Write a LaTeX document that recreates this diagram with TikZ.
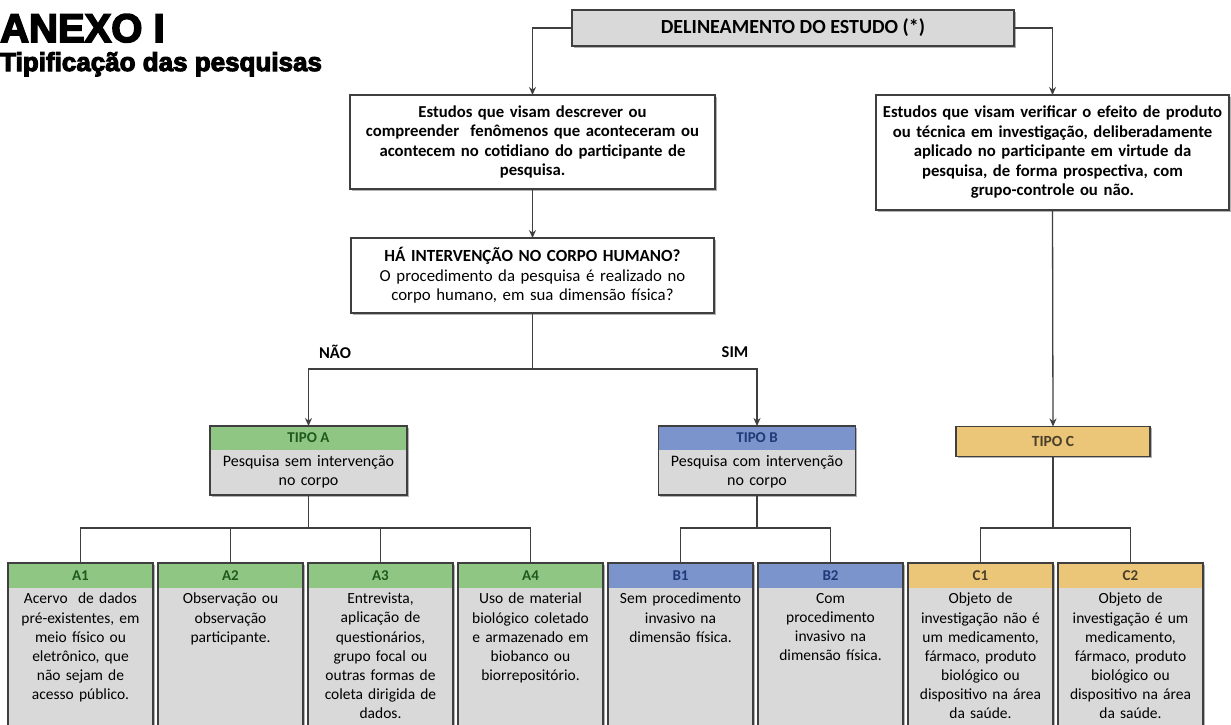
\documentclass[tikz,border=0pt]{standalone}
\usepackage{fontspec}
\setmainfont{Carlito}
\newfontfamily\titlefont{Liberation Sans}[BoldFeatures={FakeBold=4}]
\usetikzlibrary{arrows.meta,shadows}
\definecolor{boxgray}{HTML}{D9D9D9}
\definecolor{bordercol}{HTML}{3F3F3F}
\definecolor{agreen}{HTML}{8FC683}
\definecolor{agreentxt}{HTML}{1E5A1E}
\definecolor{bblue}{HTML}{7B94CB}
\definecolor{bbluetxt}{HTML}{1F3A78}
\definecolor{cgold}{HTML}{EBC679}
\definecolor{cgoldtxt}{HTML}{4A3F2A}
\tikzset{
  frame/.style={outer sep=0pt, inner sep=0pt, draw=bordercol, line width=1.3pt,
    drop shadow={shadow xshift=1.6pt, shadow yshift=-1.6pt, opacity=.3, fill=black}},
  border/.style={draw=bordercol, line width=1.3pt},
  hdr/.style={outer sep=0pt, inner sep=0pt, font=\bfseries\fontsize{15}{17}\selectfont},
  bodytxt/.style={inner sep=0pt, align=center, text width=142pt, font=\fontsize{15.5}{19.1}\selectfont},
  conn/.style={draw=bordercol, line width=1.3pt},
  arr/.style={conn, -{Stealth[length=8pt,width=7pt]}},
  lbl/.style={font=\bfseries\fontsize{16.5}{18}\selectfont},
  bigtxt/.style={align=center, font=\bfseries\fontsize{16.7}{19.5}\selectfont},
}
\newcommand\botbox[6]{%
  \node[frame, fill=boxgray, minimum width=145pt, minimum height=175pt, anchor=north] (#1) at (#2,563) {};
  \node[hdr, fill=#3, text=#4, minimum width=145pt, minimum height=25pt, anchor=north] (#1h) at (#1.north) {#5};
  \node[bodytxt, anchor=north] (#1t) at ([yshift=-5pt]#1h.south) {#6};
  \draw[border] (#1.north west) rectangle (#1.south east);
}
\begin{document}
\begin{tikzpicture}[x=1pt,y=-1pt]
\useasboundingbox (0,0) rectangle (1231,724);
\fill[white] (0,0) rectangle (1231,724);
% titles
\node[anchor=base west, inner sep=0pt, font=\titlefont\bfseries\fontsize{40}{44}\selectfont] (t1) at (0,42) {ANEXO I};
\node[anchor=base west, inner sep=0pt, font=\titlefont\bfseries\fontsize{26}{28}\selectfont] (t2) at (0,71) {Tipificação das pesquisas};
% top box
\node[frame, fill=boxgray, minimum width=442pt, minimum height=36pt, font=\bfseries\fontsize{20}{22}\selectfont] (top) at (793,28) {DELINEAMENTO DO ESTUDO (*)};
% left box
\node[frame, fill=white, minimum width=365pt, minimum height=94pt, text width=358pt, bigtxt] (lbox) at (532.5,142)
  {Estudos que visam descrever ou\\ compreender\ \ fenômenos que aconteceram ou\\ acontecem no cotidiano do participante de\\ pesquisa.};
% right box
\node[frame, fill=white, minimum width=353pt, minimum height=115pt, text width=350pt, bigtxt] (rbox) at (1052.5,152.5)
  {Estudos que visam verificar o efeito de produto\\ ou técnica em investigação, deliberadamente\\ aplicado no participante em virtude da\\ pesquisa, de forma prospectiva, com\\ grupo-controle ou não.};
% question box
\node[frame, fill=white, minimum width=363pt, minimum height=75pt, text width=358pt, align=center,
  font=\fontsize{16.8}{19.5}\selectfont] (q) at (532.5,275.5)
  {{\bfseries\fontsize{17}{19.5}\selectfont HÁ INTERVENÇÃO NO CORPO HUMANO?}\\ O procedimento da pesquisa é realizado no\\ corpo humano, em sua dimensão física?};
\node[lbl] (nao) at (335,352) {NÃO};
\node[lbl] (sim) at (735,352) {SIM};
% TIPO A
\node[frame, fill=boxgray, minimum width=197pt, minimum height=69pt, anchor=north] (ta) at (308.5,426) {};
\node[hdr, fill=agreen, text=agreentxt, minimum width=197pt, minimum height=24pt, anchor=north] (tah) at (ta.north) {TIPO A};
\node[bodytxt, font=\fontsize{16}{19.2}\selectfont, text width=190pt, anchor=north] (tat) at ([yshift=-5pt]tah.south) {Pesquisa sem intervenção\\ no corpo};
\draw[border] (ta.north west) rectangle (ta.south east);
% TIPO B
\node[frame, fill=boxgray, minimum width=197pt, minimum height=69pt, anchor=north] (tb) at (757,426) {};
\node[hdr, fill=bblue, text=bbluetxt, minimum width=197pt, minimum height=24pt, anchor=north] (tbh) at (tb.north) {TIPO B};
\node[bodytxt, font=\fontsize{16}{19.2}\selectfont, text width=190pt, anchor=north] (tbt) at ([yshift=-5pt]tbh.south) {Pesquisa com intervenção\\ no corpo};
\draw[border] (tb.north west) rectangle (tb.south east);
% TIPO C
\node[frame, fill=cgold, text=cgoldtxt, minimum width=194pt, minimum height=30pt, font=\bfseries\fontsize{15.5}{17}\selectfont] (tc) at (1053,441.5) {TIPO C};
% bottom boxes
\botbox{a1}{80.5}{agreen}{agreentxt}{A1}{Acervo\ \ de dados\\ pré-existentes, em\\ meio físico ou\\ eletrônico, que\\ não sejam de\\ acesso público.}
\botbox{a2}{230.5}{agreen}{agreentxt}{A2}{Observação ou\\ observação\\ participante.}
\botbox{a3}{380.5}{agreen}{agreentxt}{A3}{Entrevista,\\ aplicação de\\ questionários,\\ grupo focal ou\\ outras formas de\\ coleta dirigida de\\ dados.}
\botbox{a4}{530.5}{agreen}{agreentxt}{A4}{Uso de material\\ biológico coletado\\ e armazenado em\\ biobanco ou\\ biorrepositório.}
\botbox{b1}{680.5}{bblue}{bbluetxt}{B1}{Sem procedimento\\ invasivo na\\ dimensão física.}
\botbox{b2}{830.5}{bblue}{bbluetxt}{B2}{Com\\ procedimento\\ invasivo na\\ dimensão física.}
\botbox{c1}{980.5}{cgold}{cgoldtxt}{C1}{Objeto de\\ investigação não é\\ um medicamento,\\ fármaco, produto\\ biológico ou\\ dispositivo na área\\ da saúde.}
\botbox{c2}{1130.5}{cgold}{cgoldtxt}{C2}{Objeto de\\ investigação é um\\ medicamento,\\ fármaco, produto\\ biológico ou\\ dispositivo na área\\ da saúde.}
% connectors
\draw[arr] (top.west) -| (lbox.north);
\draw[arr] (top.east) -| (rbox.north);
\draw[arr] (lbox.south) -- (q.north);
\coordinate (qs) at (532.5,369);
\draw[conn] (q.south) -- (qs);
\draw[arr] (qs) -| (ta.north);
\draw[arr] (qs) -| (tb.north);
\draw[arr] (rbox.south) -- (tc.north);
\coordinate (ja) at (308.5,528);
\coordinate (jb) at (757,528);
\coordinate (jc) at (1053,528);
\draw[conn] (ta.south) -- (ja);
\draw[conn] (tb.south) -- (jb);
\draw[conn] (tc.south) -- (jc);
\foreach \n in {a1,a2,a3,a4} \draw[conn] (ja) -| (\n.north);
\foreach \n in {b1,b2} \draw[conn] (jb) -| (\n.north);
\foreach \n in {c1,c2} \draw[conn] (jc) -| (\n.north);
\end{tikzpicture}
\end{document}
